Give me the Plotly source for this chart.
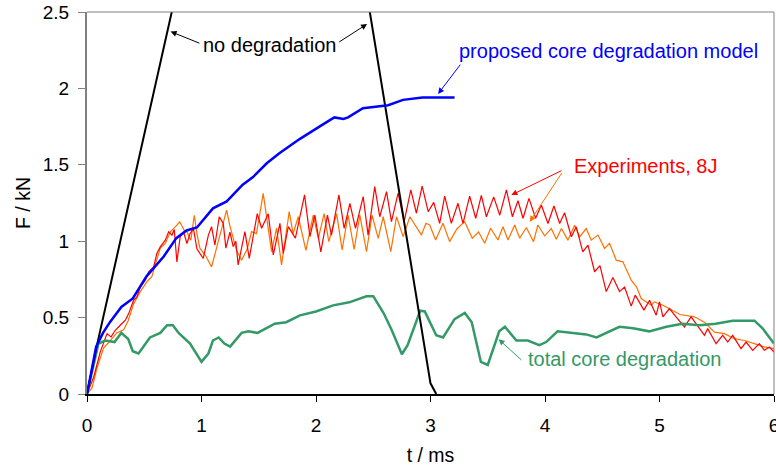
import plotly.graph_objects as go

# ---------------- data ----------------
nodeg_t = [0, 0.09, 0.80, None, 2.43, 2.47, 3.00, 3.05]
nodeg_f = [0, 0.33, 2.70, None, 2.68, 2.50, 0.07, 0.0]

model_t = [0, 0.08, 0.14, 0.20, 0.30, 0.40, 0.52, 0.67, 0.78, 0.87, 0.96, 1.10, 1.22, 1.36,
           1.45, 1.57, 1.68, 1.86, 2.03, 2.16, 2.24, 2.28, 2.41, 2.63, 2.76, 2.93, 3.21]
model_f = [0, 0.31, 0.40, 0.47, 0.57, 0.625, 0.77, 0.90, 1.02, 1.07, 1.09, 1.215, 1.26, 1.37,
           1.42, 1.51, 1.575, 1.67, 1.75, 1.81, 1.80, 1.81, 1.87, 1.89, 1.925, 1.94, 1.94]

total_t = [0, 0.10, 0.16, 0.24, 0.30, 0.36, 0.40, 0.45, 0.55, 0.64, 0.70, 0.75, 0.80, 0.90, 1.00,
           1.06, 1.10, 1.15, 1.20, 1.25, 1.35, 1.41, 1.49, 1.64, 1.74, 1.86, 2.00, 2.15, 2.29,
           2.44, 2.50, 2.59, 2.66, 2.75, 2.80, 2.91, 2.95, 3.05, 3.11, 3.21, 3.30, 3.36, 3.44,
           3.50, 3.60, 3.65, 3.75, 3.85, 3.95, 4.01, 4.11, 4.27, 4.36, 4.45, 4.53, 4.65, 4.77,
           4.91, 5.06, 5.20, 5.35, 5.49, 5.64, 5.83, 5.90, 6.00]
total_f = [0, 0.33, 0.35, 0.34, 0.40, 0.36, 0.28, 0.265, 0.37, 0.40, 0.45, 0.45, 0.40, 0.33, 0.21,
           0.265, 0.35, 0.37, 0.33, 0.31, 0.40, 0.41, 0.40, 0.46, 0.47, 0.515, 0.54, 0.58, 0.60,
           0.64, 0.64, 0.53, 0.42, 0.26, 0.32, 0.545, 0.54, 0.385, 0.37, 0.49, 0.53, 0.47, 0.21,
           0.19, 0.41, 0.44, 0.35, 0.35, 0.32, 0.34, 0.41, 0.40, 0.39, 0.37, 0.40, 0.44, 0.43,
           0.41, 0.44, 0.46, 0.45, 0.46, 0.48, 0.48, 0.43, 0.33]

exp1_t = [0, 0.058, 0.116, 0.175, 0.21, 0.247, 0.29, 0.335, 0.364, 0.407, 0.436, 0.465, 0.509,
          0.538, 0.582, 0.61, 0.64, 0.684, 0.713, 0.742, 0.762, 0.785, 0.814, 0.843, 0.873, 0.90,
          0.93, 0.96, 1.015, 1.06, 1.088, 1.117, 1.155, 1.19, 1.213, 1.248, 1.277, 1.30, 1.32,
          1.379, 1.417, 1.466, 1.487, 1.525, 1.583, 1.627, 1.685, 1.714, 1.758, 1.82, 1.90, 1.947,
          1.99, 2.042, 2.10, 2.135, 2.20, 2.246, 2.296, 2.345, 2.412, 2.455, 2.513, 2.557, 2.616,
          2.659, 2.717, 2.77, 2.828, 2.877, 2.927, 2.98, 3.028, 3.08, 3.124, 3.182, 3.24, 3.284,
          3.342, 3.395, 3.444, 3.488, 3.552, 3.605, 3.663, 3.715, 3.764, 3.808, 3.86, 3.918,
          3.968, 4.026, 4.078, 4.128, 4.171, 4.23, 4.273, 4.33, 4.375, 4.433, 4.48, 4.535, 4.593,
          4.651, 4.695, 4.753, 4.788, 4.864, 4.913, 4.971, 5.0, 5.03, 5.087, 5.15, 5.218, 5.276,
          5.33, 5.393, 5.421, 5.494, 5.552, 5.596, 5.639, 5.712, 5.756, 5.814, 5.872, 5.916,
          5.959, 6.0]
exp1_f = [0, 0.11, 0.276, 0.395, 0.374, 0.417, 0.45, 0.483, 0.526, 0.614, 0.635, 0.70, 0.745,
          0.80, 0.832, 0.92, 0.963, 1.007, 1.062, 1.04, 1.077, 0.865, 1.029, 1.062, 0.985, 1.05,
          1.08, 0.95, 0.887, 1.04, 1.095, 0.975, 1.16, 1.117, 0.954, 1.06, 0.965, 1.0, 0.845,
          1.063, 0.888, 1.106, 1.18, 1.085, 1.18, 0.91, 1.117, 0.92, 1.095, 1.02, 1.303, 1.03,
          1.17, 0.93, 1.17, 1.04, 1.303, 1.084, 1.248, 1.084, 1.292, 1.04, 1.357, 1.16, 1.325,
          1.128, 1.314, 1.128, 1.336, 1.183, 1.361, 1.193, 1.254, 1.117, 1.295, 1.117, 1.248, 1.117,
          1.295, 1.15, 1.30, 1.16, 1.29, 1.17, 1.336, 1.16, 1.265, 1.15, 1.28, 1.15,
          1.237, 1.116, 1.23, 1.116, 1.186, 1.029, 1.094, 0.93, 0.975, 0.80, 0.84, 0.67, 0.763,
          0.67, 0.70, 0.575, 0.647, 0.549, 0.614, 0.516, 0.603, 0.505, 0.559, 0.50, 0.439, 0.505,
          0.45, 0.384, 0.428, 0.329, 0.384, 0.34, 0.384, 0.297, 0.34, 0.286, 0.33, 0.286,
          0.308, 0.275]

exp2_t = [0, 0.044, 0.087, 0.145, 0.204, 0.26, 0.32, 0.36, 0.407, 0.465, 0.524, 0.567, 0.596,
          0.64, 0.684, 0.727, 0.785, 0.81, 0.85, 0.873, 0.907, 0.937, 0.96, 0.986, 1.04, 1.088,
          1.146, 1.219, 1.248, 1.306, 1.35, 1.40, 1.437, 1.48, 1.539, 1.57, 1.612, 1.656, 1.699,
          1.766, 1.80, 1.845, 1.912, 1.976, 2.02, 2.071, 2.112, 2.18, 2.228, 2.28, 2.333, 2.383,
          2.441, 2.49, 2.543, 2.587, 2.653, 2.703, 2.761, 2.82, 2.921, 2.96, 2.993, 3.045, 3.109,
          3.167, 3.23, 3.298, 3.365, 3.42, 3.473, 3.525, 3.589, 3.633, 3.677, 3.735, 3.779, 3.837,
          3.90, 3.938, 3.997, 4.055, 4.099, 4.143, 4.20, 4.259, 4.303, 4.36, 4.404, 4.463, 4.52,
          4.564, 4.622, 4.68, 4.753, 4.80, 4.84, 4.928, 4.956, 5.03, 5.10, 5.18, 5.305, 5.393,
          5.48, 5.567, 5.654, 5.741, 5.828, 5.916, 6.0]
exp2_f = [0, 0.04, 0.17, 0.30, 0.35, 0.40, 0.42, 0.48, 0.59, 0.67, 0.735, 0.77, 0.845,
          0.955, 0.985, 1.06, 1.105, 1.127, 1.07, 1.062, 1.006, 1.17, 1.05, 0.954, 0.90, 0.832,
          0.997, 1.204, 1.10, 0.94, 0.875, 0.95, 1.063, 1.05, 1.313, 1.15, 0.932, 1.085, 0.845,
          1.193, 1.05, 1.16, 0.94, 1.17, 1.019, 1.18, 0.997, 1.18, 0.943, 1.17, 0.947, 1.17,
          0.932, 1.17, 1.019, 1.16, 0.932, 1.16, 1.03, 1.16, 1.04, 1.117, 1.106, 1.008, 1.117,
          0.997, 1.08, 1.128, 1.019, 1.06, 0.986, 1.085, 1.008, 1.095, 1.008, 1.106, 1.019, 1.09,
          0.997, 1.106, 1.035, 1.083, 1.012, 1.083, 1.007, 1.105, 1.029, 1.083, 1.007, 1.04, 0.953,
          0.986, 0.876, 0.865, 0.745, 0.70, 0.625, 0.581, 0.603, 0.581, 0.55, 0.52, 0.505, 0.47,
          0.405, 0.395, 0.362, 0.35, 0.33, 0.308, 0.297]

x_ticks = [0, 1, 2, 3, 4, 5, 6]
y_ticks = [0, 0.5, 1, 1.5, 2, 2.5]
x_title = "t / ms"
y_title = "F / kN"

FONT = "Arial, Liberation Sans, sans-serif"
C_RED = "#FF0000"
C_ORANGE = "#FF7000"
C_BLUE = "#0000FF"
C_GREEN = "#339966"

fig = go.Figure()
fig.add_trace(go.Scatter(x=exp2_t, y=exp2_f, mode="lines", line=dict(color=C_ORANGE, width=1.2), showlegend=False))
fig.add_trace(go.Scatter(x=exp1_t, y=exp1_f, mode="lines", line=dict(color=C_RED, width=1.2), showlegend=False))
fig.add_trace(go.Scatter(x=total_t, y=total_f, mode="lines", line=dict(color=C_GREEN, width=2.5), showlegend=False))
fig.add_trace(go.Scatter(x=nodeg_t, y=nodeg_f, mode="lines", line=dict(color="black", width=2), showlegend=False))
fig.add_trace(go.Scatter(x=model_t, y=model_f, mode="lines", line=dict(color=C_BLUE, width=2.5), showlegend=False))

# text labels
labels = [
    ("no degradation", 1.592, 2.285, "black"),
    ("proposed core degradation model", 4.551, 2.246, C_BLUE),
    ("Experiments, 8J", 4.874, 1.489, C_RED),
    ("total core degradation", 4.695, 0.23, C_GREEN),
]
for txt, x, y, c in labels:
    fig.add_annotation(x=x, y=y, xref="x", yref="y", text=txt, showarrow=False,
                       font=dict(family=FONT, size=20, color=c))

# arrows: (head_t, head_f, tail_t, tail_f, color)
arrows = [
    (0.730, 2.372, 0.995, 2.292, "black"),
    (2.446, 2.421, 2.190, 2.298, "black"),
    (3.066, 1.964, 3.270, 2.165, C_BLUE),
    (3.706, 1.302, 4.156, 1.466, C_RED),
    (3.866, 1.127, 4.154, 1.455, C_ORANGE),
    (3.595, 0.358, 3.807, 0.214, C_GREEN),
]
for hx, hy, tx, ty, c in arrows:
    fig.add_annotation(x=hx, y=hy, ax=tx, ay=ty, xref="x", yref="y", axref="x", ayref="y",
                       text="", showarrow=True, arrowhead=2, arrowsize=1.2, arrowwidth=1,
                       arrowcolor=c, standoff=0, startstandoff=0)

# frame (top and right borders)
fig.add_shape(type="line", xref="paper", yref="paper", x0=0, x1=1, y0=1, y1=1,
              line=dict(color="#808080", width=1))
fig.add_shape(type="line", xref="paper", yref="paper", x0=1, x1=1, y0=0, y1=1,
              line=dict(color="#808080", width=1))

fig.update_layout(
    width=776, height=467,
    margin=dict(l=87, r=2, t=12, b=73, autoexpand=False),
    paper_bgcolor="white", plot_bgcolor="white",
    font=dict(family=FONT, size=19, color="black"),
    showlegend=False,
    xaxis=dict(range=[0, 6], tickvals=x_ticks, showgrid=False, zeroline=False,
               showline=True, linecolor="black", linewidth=1.5, automargin=False,
               ticks="outside", ticklen=6, tickcolor="black", tickwidth=1,
               ticklabelstandoff=7, ticklabeloverflow="allow",
               tickfont=dict(family=FONT, size=19),
               title=dict(text=x_title, font=dict(family=FONT, size=19.5), standoff=14)),
    yaxis=dict(range=[0, 2.5], tickvals=y_ticks, showgrid=False, zeroline=False,
               showline=True, linecolor="#808080", linewidth=2, automargin=False,
               ticks="outside", ticklen=7, tickcolor="#808080", tickwidth=1,
               ticklabelstandoff=5,
               tickfont=dict(family=FONT, size=19),
               title=dict(text=y_title, font=dict(family=FONT, size=19.5), standoff=7)),
)

fig.write_html("out.html")
